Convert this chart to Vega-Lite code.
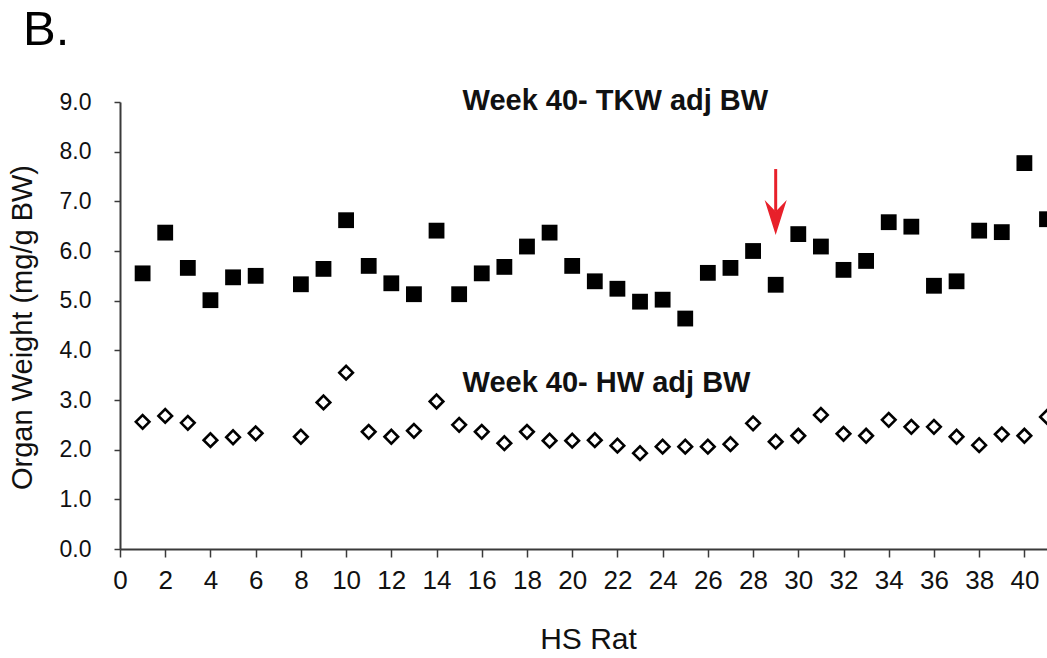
{
  "$schema": "https://vega.github.io/schema/vega-lite/v6.json",
  "width": 927,
  "height": 447,
  "autosize": "none",
  "padding": {"left": 120, "top": 102, "right": 0, "bottom": 109},
  "background": "white",
  "title": {
    "text": "B.",
    "anchor": "start",
    "frame": "group",
    "font": "Liberation Sans, Arial, sans-serif",
    "fontSize": 49,
    "fontWeight": "normal",
    "color": "#000000",
    "baseline": "alphabetic",
    "dx": -97,
    "dy": 7,
    "offset": 0
  },
  "config": {
    "view": {"stroke": null},
    "axis": {
      "grid": false,
      "domainColor": "#3a3a3a",
      "domainWidth": 2,
      "tickColor": "#3a3a3a",
      "tickWidth": 1.5,
      "labelColor": "#111111",
      "titleColor": "#111111",
      "labelFont": "Liberation Sans, Arial, sans-serif",
      "titleFont": "Liberation Sans, Arial, sans-serif",
      "titleFontWeight": "normal"
    }
  },
  "datasets": {
    "tkw": [
      {"rat": 1, "value": 5.55}, {"rat": 2, "value": 6.37}, {"rat": 3, "value": 5.66},
      {"rat": 4, "value": 5.01}, {"rat": 5, "value": 5.47}, {"rat": 6, "value": 5.50},
      {"rat": 8, "value": 5.33}, {"rat": 9, "value": 5.64}, {"rat": 10, "value": 6.62},
      {"rat": 11, "value": 5.70}, {"rat": 12, "value": 5.35}, {"rat": 13, "value": 5.13},
      {"rat": 14, "value": 6.41}, {"rat": 15, "value": 5.13}, {"rat": 16, "value": 5.55},
      {"rat": 17, "value": 5.68}, {"rat": 18, "value": 6.09}, {"rat": 19, "value": 6.37},
      {"rat": 20, "value": 5.70}, {"rat": 21, "value": 5.39}, {"rat": 22, "value": 5.24},
      {"rat": 23, "value": 4.98}, {"rat": 24, "value": 5.02}, {"rat": 25, "value": 4.64},
      {"rat": 26, "value": 5.56}, {"rat": 27, "value": 5.66}, {"rat": 28, "value": 6.00},
      {"rat": 29, "value": 5.32}, {"rat": 30, "value": 6.34}, {"rat": 31, "value": 6.09},
      {"rat": 32, "value": 5.62}, {"rat": 33, "value": 5.80}, {"rat": 34, "value": 6.58},
      {"rat": 35, "value": 6.49}, {"rat": 36, "value": 5.30}, {"rat": 37, "value": 5.39},
      {"rat": 38, "value": 6.41}, {"rat": 39, "value": 6.38}, {"rat": 40, "value": 7.77},
      {"rat": 41, "value": 6.64}
    ],
    "hw": [
      {"rat": 1, "value": 2.56}, {"rat": 2, "value": 2.68}, {"rat": 3, "value": 2.54},
      {"rat": 4, "value": 2.19}, {"rat": 5, "value": 2.25}, {"rat": 6, "value": 2.33},
      {"rat": 8, "value": 2.26}, {"rat": 9, "value": 2.95}, {"rat": 10, "value": 3.55},
      {"rat": 11, "value": 2.36}, {"rat": 12, "value": 2.26}, {"rat": 13, "value": 2.38},
      {"rat": 14, "value": 2.97}, {"rat": 15, "value": 2.50}, {"rat": 16, "value": 2.36},
      {"rat": 17, "value": 2.13}, {"rat": 18, "value": 2.36}, {"rat": 19, "value": 2.18},
      {"rat": 20, "value": 2.18}, {"rat": 21, "value": 2.19}, {"rat": 22, "value": 2.08},
      {"rat": 23, "value": 1.93}, {"rat": 24, "value": 2.06}, {"rat": 25, "value": 2.06},
      {"rat": 26, "value": 2.06}, {"rat": 27, "value": 2.11}, {"rat": 28, "value": 2.53},
      {"rat": 29, "value": 2.16}, {"rat": 30, "value": 2.28}, {"rat": 31, "value": 2.70},
      {"rat": 32, "value": 2.32}, {"rat": 33, "value": 2.28}, {"rat": 34, "value": 2.60},
      {"rat": 35, "value": 2.46}, {"rat": 36, "value": 2.46}, {"rat": 37, "value": 2.26},
      {"rat": 38, "value": 2.09}, {"rat": 39, "value": 2.31}, {"rat": 40, "value": 2.28},
      {"rat": 41, "value": 2.66}
    ],
    "labels": [
      {"label": "Week 40- TKW adj BW", "rat": 15.15, "value": 8.84},
      {"label": "Week 40- HW adj BW", "rat": 15.15, "value": 3.17}
    ],
    "arrow": [
      {"rat": 29, "top": 7.65, "bottom": 6.79, "head": 6.674}
    ]
  },
  "layer": [
    {
      "data": {"name": "tkw"},
      "mark": {"type": "point", "shape": "square", "filled": true, "color": "#000000", "size": 250, "opacity": 1},
      "encoding": {
        "x": {
          "field": "rat", "type": "quantitative",
          "scale": {"domain": [0, 41], "nice": false, "zero": false},
          "axis": {
            "title": "HS Rat",
            "values": [0, 2, 4, 6, 8, 10, 12, 14, 16, 18, 20, 22, 24, 26, 28, 30, 32, 34, 36, 38, 40],
            "format": "d",
            "tickSize": 8,
            "labelPadding": 10,
            "labelFontSize": 26,
            "titleFontSize": 30,
            "titleX": 468,
            "titleY": 99,
            "titleBaseline": "alphabetic",
            "labelFlush": false,
            "labelOverlap": false
          }
        },
        "y": {
          "field": "value", "type": "quantitative",
          "scale": {"domain": [0, 9], "nice": false},
          "axis": {
            "title": "Organ Weight (mg/g BW)",
            "values": [0, 1, 2, 3, 4, 5, 6, 7, 8, 9],
            "format": ".1f",
            "tickSize": 6,
            "labelPadding": 23,
            "labelFontSize": 23,
            "titleFontSize": 29,
            "titleX": -98,
            "titleY": 225,
            "titleBaseline": "middle",
            "titleAngle": -90,
            "labelFlush": false,
            "labelOverlap": false
          }
        }
      }
    },
    {
      "data": {"name": "hw"},
      "mark": {"type": "point", "shape": "diamond", "filled": false, "stroke": "#000000", "strokeWidth": 2.6, "size": 185, "opacity": 1},
      "encoding": {
        "x": {"field": "rat", "type": "quantitative"},
        "y": {"field": "value", "type": "quantitative"}
      }
    },
    {
      "data": {"name": "labels"},
      "mark": {"type": "text", "align": "left", "baseline": "alphabetic", "font": "Liberation Sans, Arial, sans-serif", "fontWeight": "bold", "fontSize": 29, "color": "#111111"},
      "encoding": {
        "x": {"field": "rat", "type": "quantitative"},
        "y": {"field": "value", "type": "quantitative"},
        "text": {"field": "label"}
      }
    },
    {
      "data": {"name": "arrow"},
      "mark": {"type": "rule", "color": "#e8202a", "strokeWidth": 3},
      "encoding": {
        "x": {"field": "rat", "type": "quantitative"},
        "y": {"field": "top", "type": "quantitative"},
        "y2": {"field": "bottom"}
      }
    },
    {
      "data": {"name": "arrow"},
      "mark": {"type": "point", "shape": "M0,1L-0.63,-1L0,-0.35L0.63,-1Z", "filled": true, "color": "#e8202a", "size": 1225, "opacity": 1},
      "encoding": {
        "x": {"field": "rat", "type": "quantitative"},
        "y": {"field": "head", "type": "quantitative"}
      }
    }
  ]
}
